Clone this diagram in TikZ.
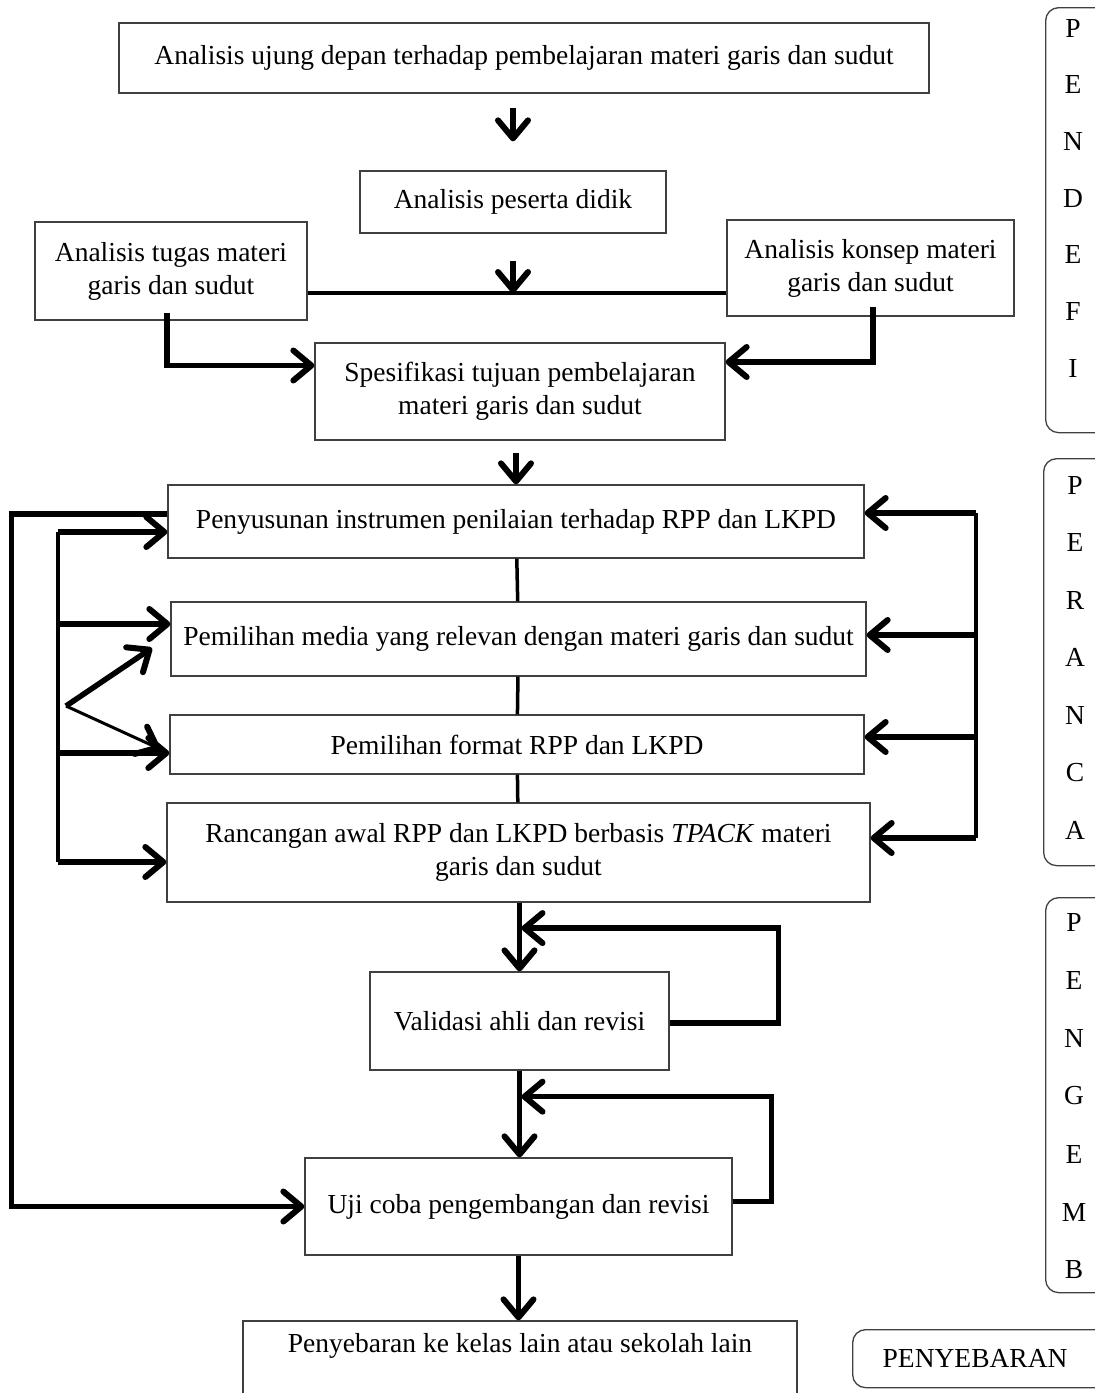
\documentclass[tikz,border=0pt]{standalone}
\usepackage{fontspec}
\setmainfont{Liberation Serif}
\usetikzlibrary{arrows.meta,calc}
\definecolor{edge}{HTML}{404040}

\begin{document}
\begin{tikzpicture}[x=1pt,y=-1pt,font=\fontsize{27.5}{33}\selectfont,
  box/.style={draw=edge,line width=1.3pt,align=center,inner sep=0pt},
  stage/.style={draw=edge,line width=1.3pt,rounded corners=13pt,anchor=north west},
  link/.style={line width=3.5pt},
  tip/.style={-{Straight Barb[round,line width=6pt,length=18pt,width=30pt]}},
  arr/.style={line width=5.5pt,tip}]
\useasboundingbox (0,0) rectangle (1095,1393);
\clip (0,0) rectangle (1095,1393);
% main column
\node[box,minimum width=810,minimum height=70] (b1) at (524,58) {Analisis ujung depan terhadap pembelajaran materi garis dan sudut};
\node[box,minimum width=306,minimum height=62] (b2) at (513,202) {Analisis peserta didik};
\node[box,minimum width=272,minimum height=98] (b3) at (171,271) {Analisis tugas materi\\garis dan sudut};
\node[box,minimum width=287,minimum height=96] (b4) at (870.5,268) {Analisis konsep materi\\garis dan sudut};
\node[box,minimum width=410,minimum height=97] (b5) at (520,391.5) {Spesifikasi tujuan pembelajaran\\materi garis dan sudut};
\node[box,minimum width=696,minimum height=73] (b6) at (516,521.5) {Penyusunan instrumen penilaian terhadap RPP dan LKPD};
\node[box,minimum width=695,minimum height=74] (b7) at (518.5,639) {Pemilihan media yang relevan dengan materi garis dan sudut};
\node[box,minimum width=694,minimum height=59] (b8) at (517,744.5) {Pemilihan format RPP dan LKPD};
\node[box,minimum width=703,minimum height=99] (b9) at (518.5,852.5) {Rancangan awal RPP dan LKPD berbasis \textit{TPACK} materi\\garis dan sudut};
\node[box,minimum width=299,minimum height=98] (b10) at (519.5,1021) {Validasi ahli dan revisi};
\node[box,minimum width=427,minimum height=97] (b11) at (518.5,1206.5) {Uji coba pengembangan dan revisi};
\node[box,minimum width=554,minimum height=86] (b12) at (520,1364) {Penyebaran ke kelas lain atau sekolah lain\\\strut};
% stages on the right
\node[stage,minimum width=90,minimum height=425] (define) at (1045,7) {};
\foreach \ch [count=\i] in {P,E,N,D,E,F,I}{\node (define\i) at (1073,{28+56.7*(\i-1)}) {\ch};}
\node[stage,minimum width=90,minimum height=407] (design) at (1043,458) {};
\foreach \ch [count=\i] in {P,E,R,A,N,C,A}{\node (design\i) at (1075,{485+57.5*(\i-1)}) {\ch};}
\node[stage,minimum width=90,minimum height=395] (develop) at (1045,897) {};
\foreach \ch [count=\i] in {P,E,N,G,E,M,B}{\node (develop\i) at (1074,{922+58*(\i-1)}) {\ch};}
\node[stage,inner xsep=30pt,text width=215pt,align=left,minimum height=58] (spread) at (852,1329) {PENYEBARAN};
% analysis part
\coordinate (join) at (b2.south |- 0,293);
\draw[arr,shorten <=14pt,shorten >=29pt] (b1.south -| b2.north) -- (b2.north);
\draw[link] (b3.east |- join) -- (b4.west |- join);
\draw[arr,shorten <=27pt] (b2.south) -- (join);
\draw[arr] ([shift={(-4,-8)}]b3.south) |- ([yshift=26pt]b5.west);
\draw[arr] ([shift={(2.5,-10)}]b4.south) |- ([yshift=29.5pt]b5.east);
\draw[arr,shorten <=12pt] (b5.south -| b6.north) -- (b6.north);
% design part
\draw[link] (b6) -- (b7);
\draw[link] (b7) -- (b8);
\draw[link] (b8) -- (b9);
\coordinate (busLt) at (58,532);
\coordinate (busLb) at (58,862);
\draw[link] (busLt) -- (busLb);
\foreach \n/\y in {b6/532,b7/624,b8/753,b9/862}{\draw[arr] (58,\y) -- (\n.west |- 0,\y);}
\coordinate (fork) at (66,706);
\coordinate (forkup) at (152,648);
\coordinate (forkdn) at (160,749);
\draw[arr] (fork) -- (forkup);
\draw[line width=3pt,tip] (fork) -- (forkdn);
\coordinate (busRt) at (976,513);
\coordinate (busRb) at (976,838);
\draw[link] (busRt) -- (busRb);
\foreach \n/\y in {b6/513,b7/635,b8/737,b9/838}{\draw[arr] (976,\y) -- (\n.east |- 0,\y);}
% development part
\draw[arr] (b9.south -| b10.north) -- (b10.north);
\coordinate (back1) at ($(b9.south -| b10.north)!.37!(b10.north)$);
\draw[arr,shorten >=2pt] ([yshift=-2pt]b10.east) -- ++(109,0) |- (back1);
\draw[arr] (b10.south) -- (b10.south |- b11.north);
\coordinate (back2) at ($(b10.south)!.3!(b10.south |- b11.north)$);
\draw[arr,shorten >=2pt] ([yshift=5pt]b11.east) -- ++(39,0) |- (back2);
\draw[arr] ([yshift=7.5pt]b6.west) -- ++(-156,0) |- (b11.west);
\draw[arr] (b11.south) -- (b11.south |- b12.north);
\end{tikzpicture}
\end{document}
